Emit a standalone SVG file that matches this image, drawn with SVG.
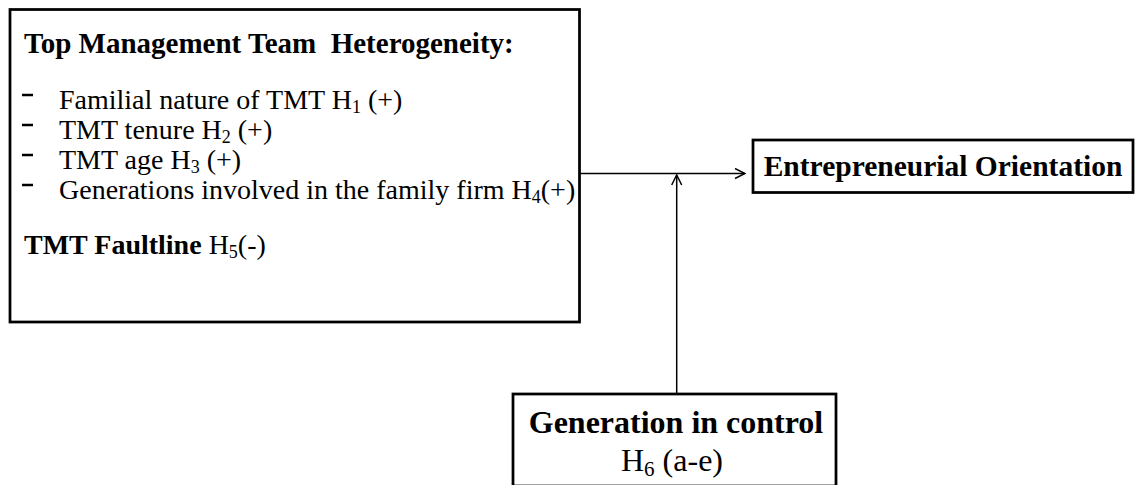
<svg xmlns="http://www.w3.org/2000/svg" width="1136" height="485" viewBox="0 0 1136 485">
<defs>
<style>
.box{fill:#fff;stroke:#000;stroke-width:2.75}
.t{font-family:"Liberation Serif","Times New Roman",serif;fill:#000}
.b{font-weight:bold}
.dash{stroke:#000;stroke-width:2.5}
.conn{stroke:#000;stroke-width:1.5;fill:none}
</style>
<marker id="arr" viewBox="0 0 12 12" refX="11" refY="6" markerWidth="12" markerHeight="12" markerUnits="userSpaceOnUse" orient="auto">
<path d="M1,1 L11,6 L1,11" fill="none" stroke="#000" stroke-width="1.5"/>
</marker>
</defs>
<rect width="1136" height="485" fill="#fff"/>
<g id="tmt">
<rect class="box" x="10" y="9.5" width="569.5" height="312.5"/>
<text class="t b" x="24" y="53" font-size="29" xml:space="preserve">Top Management Team  Heterogeneity:</text>
<line class="dash" x1="22" y1="95" x2="33" y2="95"/>
<line class="dash" x1="22" y1="125" x2="33" y2="125"/>
<line class="dash" x1="22" y1="155" x2="33" y2="155"/>
<line class="dash" x1="22" y1="185" x2="33" y2="185"/>
<g class="t" font-size="28">
<text x="59" y="109">Familial nature of TMT H<tspan font-size="18" dy="4">1</tspan><tspan dy="-4"> (+)</tspan></text>
<text x="59" y="139">TMT tenure H<tspan font-size="18" dy="4">2</tspan><tspan dy="-4"> (+)</tspan></text>
<text x="59" y="169">TMT age H<tspan font-size="18" dy="4">3</tspan><tspan dy="-4"> (+)</tspan></text>
<text x="59" y="199">Generations involved in the family firm H<tspan font-size="18" dy="4">4</tspan><tspan dy="-4">(+)</tspan></text>
<text x="24" y="254"><tspan class="b">TMT Faultline</tspan> H<tspan font-size="18" dy="4">5</tspan><tspan dy="-4">(-)</tspan></text>
</g>
</g>
<g id="eo">
<rect class="box" x="753" y="140" width="380" height="52.5"/>
<text class="t b" x="943" y="175.5" font-size="29.5" text-anchor="middle">Entrepreneurial Orientation</text>
</g>
<g id="gen">
<rect class="box" x="513" y="394" width="323" height="92"/>
<text class="t b" x="676" y="433" font-size="32" text-anchor="middle">Generation in control</text>
<text class="t" x="672" y="471" font-size="32" text-anchor="middle">H<tspan font-size="21" dy="5">6</tspan><tspan dy="-5"> (a-e)</tspan></text>
</g>
<g id="connectors">
<line class="conn" x1="580" y1="173.5" x2="745" y2="173.5" marker-end="url(#arr)"/>
<line class="conn" x1="676.7" y1="393" x2="676.7" y2="175" marker-end="url(#arr)"/>
</g>
</svg>
